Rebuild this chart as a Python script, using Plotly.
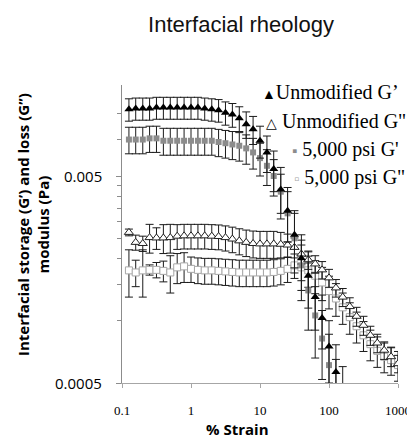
import math
import plotly.graph_objects as go

# ---------------- data ----------------
strain = [0.126, 0.158, 0.2, 0.251, 0.316, 0.398, 0.501, 0.631, 0.794, 1,
          1.26, 1.58, 2, 2.51, 3.16, 3.98, 5.01, 6.31, 7.94, 10,
          12.6, 15.8, 20, 25.1, 31.6, 39.8, 50.1, 63.1, 79.4, 100,
          126, 158, 200, 251, 316, 398, 501, 631, 794, 1000]

unmod_gp = [0.0105, 0.0106, 0.0106, 0.0106, 0.0107, 0.0107, 0.0107, 0.0107, 0.0107, 0.0107,
            0.0107, 0.0106, 0.0105, 0.0104, 0.0101, 0.0099, 0.0095, 0.0089, 0.0084, 0.0074,
            0.0065, 0.0054, 0.0043, 0.0034, 0.0026, 0.0020, 0.00165, 0.0013, 0.00103, 0.00075,
            0.000565, 0.00045]
unmod_gp_err = [0.0013, 0.0013, 0.0013, 0.0013, 0.0013, 0.0013, 0.0013, 0.0013, 0.0013, 0.0013,
                0.0013, 0.0013, 0.0013, 0.0013, 0.0013, 0.0013, 0.0013, 0.0013, 0.0013, 0.0013,
                0.0013, 0.0012, 0.0012, 0.0010, 0.0008, 0.0006, 0.0005, 0.0004, 0.0003, 0.00025,
                0.0002, 0.00015]

unmod_gpp = [0.00267, 0.00239, 0.00236, 0.00252, 0.00251, 0.00251, 0.00252, 0.00256, 0.00257, 0.00257,
             0.00257, 0.00257, 0.00256, 0.00255, 0.00252, 0.00248, 0.00243, 0.00239, 0.00236, 0.00235,
             0.00235, 0.00235, 0.00234, 0.00232, 0.00226, 0.00210, 0.00197, 0.00188, 0.00176, 0.00161,
             0.00144, 0.00130, 0.00117, 0.00105, 0.00095, 0.00085, 0.00078, 0.00072, 0.00067, 0.00062]
unmod_gpp_err = [0.0001, 0.0002, 0.0002, 0.0004, 0.0003, 0.0004, 0.0004, 0.00035, 0.00035, 0.00035,
                 0.00035, 0.00035, 0.00035, 0.00035, 0.00035, 0.00035, 0.00035, 0.00035, 0.00035, 0.00035,
                 0.00035, 0.00035, 0.00033, 0.0003, 0.00025, 0.00022, 0.0002, 0.00018, 0.00017, 0.00016,
                 0.00014, 0.00013, 0.00012, 0.00011, 0.0001, 0.00009, 0.00008, 0.00007, 0.00007, 0.00006]

psi_gp = [0.0075, 0.0075, 0.0075, 0.0076, 0.0076, 0.0074, 0.0074, 0.0074, 0.0074, 0.0074,
          0.0074, 0.0074, 0.0074, 0.0073, 0.0072, 0.0071, 0.0070, 0.0068, 0.0065, 0.0061,
          0.0056, 0.0050, 0.0042, 0.0033, 0.0025, 0.00185, 0.0014, 0.00106, 0.00082, 0.00061,
          0.00045]
psi_gp_err = [0.0011, 0.0011, 0.0011, 0.0011, 0.0011, 0.0011, 0.0011, 0.0011, 0.0011, 0.0011,
              0.0011, 0.0011, 0.0011, 0.0011, 0.0011, 0.0011, 0.0011, 0.0011, 0.0011, 0.0011,
              0.0011, 0.0010, 0.0009, 0.0009, 0.0008, 0.0006, 0.0005, 0.0004, 0.0003, 0.00025,
              0.0002]

psi_gpp = [0.00175, 0.00171, 0.00175, 0.00176, 0.00176, 0.00174, 0.00171, 0.00181, 0.00183, 0.00178,
           0.00176, 0.00175, 0.00175, 0.00174, 0.00173, 0.00172, 0.00171, 0.00171, 0.00171, 0.00171,
           0.00171, 0.00172, 0.00174, 0.00178, 0.00185, 0.00181, 0.00175, 0.00165, 0.00153, 0.00139,
           0.00128, 0.00116, 0.00104, 0.00094, 0.00085, 0.00077, 0.000715, 0.00067, 0.000645, 0.00061]
psi_gpp_err = [0.00045, 0.00025, 0.00045, 0.0001, 0.00015, 0.0002, 0.00035, 0.0003, 0.0003, 0.00025,
               0.00025, 0.00025, 0.00025, 0.00025, 0.00025, 0.00025, 0.00025, 0.00025, 0.00025, 0.00025,
               0.00025, 0.00025, 0.00025, 0.00025, 0.00025, 0.00025, 0.0003, 0.0003, 0.00028, 0.00025,
               0.00023, 0.0002, 0.00018, 0.00016, 0.00014, 0.00013, 0.00012, 0.00011, 0.0001, 0.0001]

x_tick_vals = [0.1, 1, 10, 100, 1000]
x_tick_text = ["0.1", "1", "10", "100", "1000"]
y_tick_vals = [0.0005, 0.005]
y_tick_text = ["0.0005", "0.005"]
y_minor_vals = [0.001, 0.0015, 0.002, 0.0025, 0.003, 0.0035, 0.004, 0.0045, 0.0075, 0.01]

legend_labels = ["Unmodified G’", "Unmodified G\"", "5,000 psi G'", "5,000 psi G\""]

# ---------------- layout geometry ----------------
# the page body adds an 8px margin, so the figure is drawn 8px in and down
OFF = 8
W, H = 415 - OFF, 440 - OFF
L, T = 122 - OFF, 85 - OFF
R, B = W - (398 - OFF), H - (383 - OFF)
PW, PH = W - L - R, H - T - B


def px(xp):
    """window pixel x -> paper x"""
    return (xp - OFF - L) / PW


def py(yp):
    """window pixel y -> paper y"""
    return (H - B - (yp - OFF)) / PH


y_lo = math.log10(0.0005)
y_hi = y_lo + PH / 207.0

fig = go.Figure()


def err(vals):
    return dict(type="data", array=vals, visible=True, color="#1a1a1a", thickness=1, width=4)


fig.add_trace(go.Scatter(x=strain[:len(psi_gpp)], y=psi_gpp, mode="markers",
                         error_y=err(psi_gpp_err),
                         marker=dict(symbol="square", size=7, color="white",
                                     line=dict(color="#a6a6a6", width=1)),
                         name=legend_labels[3], showlegend=False))
fig.add_trace(go.Scatter(x=strain[:len(unmod_gpp)], y=unmod_gpp, mode="markers",
                         error_y=err(unmod_gpp_err),
                         marker=dict(symbol="triangle-up", size=8, color="white",
                                     line=dict(color="#222222", width=1)),
                         name=legend_labels[1], showlegend=False))
fig.add_trace(go.Scatter(x=strain[:len(psi_gp)], y=psi_gp, mode="markers",
                         error_y=err(psi_gp_err),
                         marker=dict(symbol="square", size=6, color="#8c8c8c"),
                         name=legend_labels[2], showlegend=False))
fig.add_trace(go.Scatter(x=strain[:len(unmod_gp)], y=unmod_gp, mode="markers",
                         error_y=err(unmod_gp_err),
                         marker=dict(symbol="triangle-up", size=8, color="black"),
                         name=legend_labels[0], showlegend=False))

serif = "Liberation Serif, Times New Roman, serif"
sans = "Open Sans, Liberation Sans, sans-serif"

# legend drawn as text annotations (staggered like the reference)
leg = [
    (260, 92, '<span style="font-size:14px">▲</span>' + legend_labels[0]),
    (264, 121, '<span style="font-size:14px">△</span> ' + legend_labels[1]),
    (290, 149, '<span style="color:#8c8c8c;font-size:15px">▪</span> ' + legend_labels[2]),
    (292, 177, '<span style="color:#a6a6a6;font-size:15px">▫</span> ' + legend_labels[3]),
]
annotations = []
for xp, yp, txt in leg:
    annotations.append(dict(x=px(xp), y=py(yp), xref="paper", yref="paper", text=txt,
                            showarrow=False, xanchor="left", yanchor="middle",
                            font=dict(family=serif, size=20, color="black")))

# y tick labels (placed as text next to their ticks)
for v, t in zip(y_tick_vals, y_tick_text):
    annotations.append(dict(x=px(104), y=math.log10(v), xref="paper", yref="y", text=t,
                            showarrow=False, xanchor="right", yanchor="middle",
                            font=dict(family=sans, size=15, color="black")))

annotations.append(dict(x=px(237), y=py(429), xref="paper", yref="paper", text="<b>% Strain</b>",
                        showarrow=False, xanchor="center", yanchor="middle",
                        font=dict(family=sans, size=15, color="black")))
annotations.append(dict(x=px(33), y=py(225), xref="paper", yref="paper",
                        text="<b>Interfacial storage (G’) and loss (G’’)<br>modulus (Pa)</b>",
                        showarrow=False, xanchor="center", yanchor="middle", textangle=-90,
                        font=dict(family=sans, size=15, color="black")))

fig.update_layout(
    width=W, height=H,
    margin=dict(l=L, r=R, t=T, b=B, pad=0),
    paper_bgcolor="white", plot_bgcolor="white",
    title=dict(text="Interfacial rheology", x=(241 - OFF) / W, xref="container", xanchor="center",
               y=1 - (24 - OFF) / H, yref="container", yanchor="middle",
               font=dict(family="Liberation Sans, Arial, sans-serif", size=22, color="#111111")),
    annotations=annotations,
    showlegend=False,
    xaxis=dict(type="log", range=[-1, 3], showgrid=False, zeroline=False,
               showline=True, linecolor="#a6a6a6", linewidth=1,
               ticks="outside", ticklen=4, tickcolor="#a6a6a6",
               tickmode="array", tickvals=x_tick_vals, ticktext=x_tick_text,
               tickfont=dict(family=serif, size=13, color="black"),
               ticklabelstandoff=11, automargin=False),
    yaxis=dict(type="log", range=[y_lo, y_hi], showgrid=False, zeroline=False,
               showline=True, linecolor="#8c8c8c", linewidth=1,
               ticks="outside", ticklen=5, tickcolor="#8c8c8c",
               tickmode="array", tickvals=y_tick_vals, ticktext=["", ""],
               automargin=False,
               minor=dict(tickmode="array", tickvals=y_minor_vals, ticks="outside",
                          ticklen=4, tickcolor="#8c8c8c", showgrid=False)),
)

fig.write_html("out.html")
